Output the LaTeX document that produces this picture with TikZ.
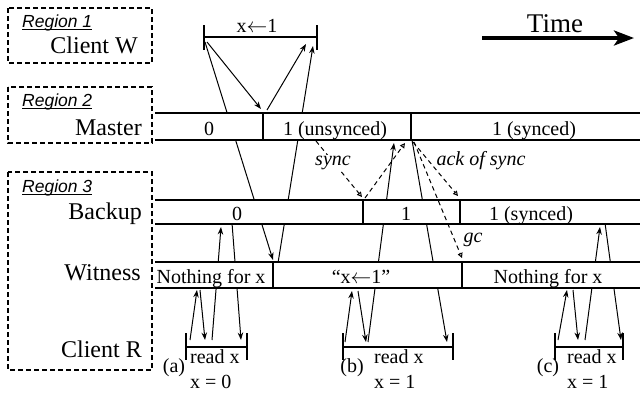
\documentclass[tikz,border=0pt]{standalone}
\usepackage{fontspec}
\setmainfont{Liberation Serif}
\newfontfamily\regfont{Liberation Sans}
\usetikzlibrary{arrows.meta}
\tikzset{
  msg/.style={line width=1pt, -{Stealth[length=7.5pt,width=5.5pt]}},
  dmsg/.style={line width=1pt, dash pattern=on 4.5pt off 3.5pt, -{Triangle[open,length=5pt,width=5pt]}},
  bandline/.style={line width=1.4pt},
  regionbox/.style={line width=1.2pt, dash pattern=on 5pt off 3pt},
  bar/.style={line width=1.3pt},
  lbl/.style={font=\fontsize{24}{26}\selectfont, inner sep=0pt, anchor=base east},
  bt/.style={font=\fontsize{20}{22}\selectfont, inner sep=0pt, anchor=base},
  btl/.style={font=\fontsize{20}{22}\selectfont, inner sep=0pt, anchor=base west},
  note/.style={font=\itshape\fontsize{20}{22}\selectfont, inner sep=1pt, anchor=base},
  rg/.style={font=\regfont\itshape\fontsize{17.5}{19}\selectfont, inner sep=0pt, anchor=base west},
}
\newcommand{\larr}{\ensuremath{\leftarrow}}
\begin{document}
\begin{tikzpicture}[x=1pt,y=-1pt]
\useasboundingbox (0,0) rectangle (640,392);

% region boxes
\draw[regionbox] (8,8) rectangle (152,63);
\draw[regionbox] (8,87) rectangle (152,143);
\draw[regionbox] (8,172) rectangle (152,370);
\node[rg] (r1) at (22,27) {Region 1};
\node[rg] (r2) at (22,106) {Region 2};
\node[rg] (r3) at (22,192) {Region 3};
\foreach \r in {r1,r2,r3}
  \draw[line width=1.1pt] ([yshift=-2.5pt]\r.base west) -- ([yshift=-2.5pt]\r.base east);
\node[lbl] (cw) at (138,53) {Client W};
\node[lbl] (ms) at (142,135.5) {Master};
\node[lbl] (bk) at (142,219) {Backup};
\node[lbl] (wt) at (141,280) {Witness};
\node[lbl] (cr) at (142,357) {Client R};

% time arrow
\node[font=\fontsize{27}{29}\selectfont, inner sep=0pt, anchor=base] (time) at (555,32) {Time};
\coordinate (t0) at (482,38);
\coordinate (t1) at (634,38);
\draw[line width=3.5pt, -{Stealth[length=20pt,width=15pt,inset=5pt]}] (t0) -- (t1);

% client W bar
\coordinate (w0) at (204,37); \coordinate (w1) at (317,37);
\draw[bar] (w0) -- (w1);
\draw[bar] (204,25) -- (204,50);
\draw[bar] (317,25) -- (317,50);
\node[bt] (wlab) at (257,32) {x\larr1};

% client R bars
\foreach \a/\b in {186/247,343/453,555/623}{
  \draw[bar] (\a,347) -- (\b,347);
  \draw[bar] (\a,333) -- (\a,360);
  \draw[bar] (\b,333) -- (\b,360);
}
\node[bt] (pa) at (174,372) {(a)};
\node[btl] (ra) at (190,363) {read x};
\node[btl] (va) at (190,388) {x = 0};
\node[bt] (pb) at (352,372) {(b)};
\node[btl] (rb) at (374,363) {read x};
\node[btl] (vb) at (374,388) {x = 1};
\node[bt] (pc) at (548,372) {(c)};
\node[btl] (rc) at (567,363) {read x};
\node[btl] (vc) at (567,388) {x = 1};

% message end points
\coordinate (wsA) at (207,42);  \coordinate (mA) at (261,109);
\coordinate (wsB) at (205,42);  \coordinate (wiB) at (273,260);
\coordinate (mC) at (267,110);  \coordinate (weC) at (306,44);
\coordinate (wiD) at (278,263); \coordinate (weD) at (313,46);

\coordinate (a1s) at (190,340); \coordinate (a1e) at (197,290);
\coordinate (a2s) at (200,290); \coordinate (a2e) at (205,340);
\coordinate (a3s) at (212,340); \coordinate (a3e) at (221,227);
\coordinate (a4s) at (232,223); \coordinate (a4e) at (241,340);

\coordinate (b1s) at (345,342); \coordinate (b1e) at (352,291);
\coordinate (b2s) at (358,291); \coordinate (b2e) at (366,342);
\coordinate (b3s) at (368,342); \coordinate (b3e) at (394,143);
\coordinate (b4s) at (412,140); \coordinate (b4e) at (447,342);

\coordinate (c1s) at (558,340); \coordinate (c1e) at (567,290);
\coordinate (c2s) at (573,290); \coordinate (c2e) at (578,340);
\coordinate (c3s) at (585,340); \coordinate (c3e) at (600,227);
\coordinate (c4s) at (605,223); \coordinate (c4e) at (621,340);

% messages passing behind the bands
\draw[msg] (wsB) -- (wiB);
\draw[msg] (wiD) -- (weD);
\draw[msg] (a3s) -- (a3e);
\draw[msg] (a4s) -- (a4e);
\draw[msg] (b3s) -- (b3e);
\draw[msg] (b4s) -- (b4e);
\draw[msg] (c3s) -- (c3e);
\draw[msg] (c4s) -- (c4e);

% bands
\foreach \t/\b in {113/140,200/224,262/288}{
  \fill[white] (155,\t) rectangle (640,\b);
  \draw[bandline] (155,\t) -- (640,\t);
  \draw[bandline] (155,\b) -- (640,\b);
}
\draw[bandline] (263,113) -- (263,140);
\draw[bandline] (411,113) -- (411,140);
\draw[bandline] (363,200) -- (363,224);
\draw[bandline] (460,200) -- (460,224);
\draw[bandline] (273,262) -- (273,288);
\draw[bandline] (462,262) -- (462,288);

\node[bt] (m0) at (209,135) {0};
\node[bt] (m1) at (335,135) {1 (unsynced)};
\node[bt] (m2) at (534,135) {1 (synced)};
\node[bt] (k0) at (237,220) {0};
\node[bt] (k1) at (406,220) {1};
\node[bt] (k2) at (531,220) {1 (synced)};
\node[bt] (n0) at (211,283) {Nothing for x};
\node[bt] (n1) at (361,283) {“x\larr1”};
\node[bt] (n2) at (548,283) {Nothing for x};

% remaining messages
\draw[msg] (wsA) -- (mA);
\draw[msg] (mC) -- (weC);
\draw[msg] (a1s) -- (a1e);
\draw[msg] (a2s) -- (a2e);
\draw[msg] (b1s) -- (b1e);
\draw[msg] (b2s) -- (b2e);
\draw[msg] (c1s) -- (c1e);
\draw[msg] (c2s) -- (c2e);

% sync traffic
\coordinate (sy0) at (316,141); \coordinate (sy1) at (362,197);
\coordinate (ak0) at (365,198); \coordinate (ak1) at (405,143);
\coordinate (as0) at (413,142); \coordinate (as1) at (458,196);
\coordinate (gc0) at (414,142); \coordinate (gc1) at (462,258);
\draw[dmsg] (sy0) -- (sy1);
\draw[dmsg] (ak0) -- (ak1);
\draw[dmsg] (as0) -- (as1);
\draw[dmsg] (gc0) -- (gc1);
\node[note, fill=white] (sync) at (333,165) {sync};
\node[note] (ack) at (481,165) {ack of sync};
\node[note] (gc) at (473,242) {gc};
\end{tikzpicture}
\end{document}
